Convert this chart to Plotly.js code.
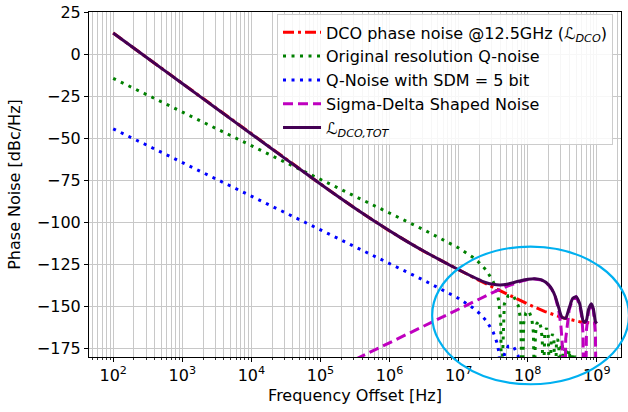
<!DOCTYPE html>
<html>
<head>
<meta charset="utf-8">
<script src="https://cdn.plot.ly/plotly-3.0.1.min.js"></script>
<style>html,body{margin:0;padding:0;background:#fff}</style>
</head>
<body>
<div id="chart" style="width:628px;height:412px"></div>
<script>
// Phase-noise budget of a 12.5 GHz DCO: offsets in Hz, levels in dBc/Hz.

// Free-running DCO phase noise (1/f^3 -> 1/f^2 -> floor)
const dcoFreq  = [1e2, 1e3, 1e4, 3.162e4, 1e5, 3.162e5, 1e6, 3.162e6, 1e7, 1.778e7, 3.162e7, 5.623e7, 1e8, 1.778e8, 3.162e8, 5.623e8, 1e9];
const dcoNoise = [12.5, -17.5, -47.5, -62.4, -77.2, -91.6, -105.1, -117.3, -128.3, -133.5, -138.6, -143.6, -148.5, -153.0, -156.6, -159.0, -160.1];

// Quantization noise at the original DCO resolution (sinc-shaped, nulls at multiples of the reference)
const qFreq = [1e2, 3.162e6, 1e7, 1.259e7, 1.585e7, 1.995e7, 2.512e7, 3.162e7, 3.548e7, 3.802e7, 3.981e7, 4.074e7, 4.167e7,
  4.583e7, 5.208e7, 6.25e7, 7.292e7, 7.917e7, 8.333e7,
  8.75e7, 9.375e7, 1.0417e8, 1.1458e8, 1.2083e8, 1.25e8,
  1.2917e8, 1.3542e8, 1.4583e8, 1.5625e8, 1.625e8, 1.6667e8,
  1.7708e8, 1.875e8, 1.9792e8, 2.0833e8,
  2.1875e8, 2.2917e8, 2.3958e8, 2.5e8,
  2.6042e8, 2.7083e8, 2.8125e8, 2.9167e8,
  3.0208e8, 3.125e8, 3.2292e8, 3.3333e8,
  3.4375e8, 3.5417e8, 3.6458e8, 3.75e8,
  3.8542e8, 3.9583e8, 4.0625e8, 4.1667e8,
  4.375e8, 4.5833e8, 4.7917e8, 5e8];
const qOrig = [-14.4, -104.5, -115.2, -117.75, -120.6, -124.0, -128.4, -135.2, -140.9, -146.5, -153.2, -159.6, -200,
  -148.6, -143.6, -143.8, -149.5, -158.1, -200,
  -159.8, -153.8, -152.7, -157.3, -165.4, -200,
  -166.6, -160.2, -158.5, -162.7, -170.6, -200,
  -164.9, -162.9, -166.8, -200,
  -168.6, -166.4, -170.1, -200,
  -171.6, -169.3, -172.9, -200,
  -174.2, -171.7, -175.3, -200,
  -176.4, -173.9, -177.4, -200,
  -178.4, -175.8, -179.3, -200,
  -177.6, -200, -179.2, -200];

// Quantization noise after 5 bits of sigma-delta dithering
const qSdmFreq = [1e2, 3.162e6, 1e7, 1.259e7, 1.585e7, 1.995e7, 2.512e7, 3.162e7, 3.548e7, 3.802e7, 3.981e7, 4.074e7, 4.167e7,
  4.583e7, 5.208e7, 6.25e7, 7.292e7, 7.917e7, 8.333e7];
const qSdm = [-44.4, -134.5, -145.2, -147.75, -150.6, -154.0, -158.4, -165.2, -170.9, -176.5, -183.2, -189.6, -230,
  -178.6, -173.6, -173.8, -179.5, -188.1, -230];

// Sigma-delta shaped noise (high-pass, nulls at multiples of the SDM clock)
const sdFreq = [1e2, 1e6, 3.162e6, 1e7, 1.778e7, 2.512e7, 3.162e7, 5.012e7, 6.31e7, 7.943e7, 1e8, 1.259e8, 1.585e8, 1.995e8,
  2.239e8, 2.512e8, 2.818e8, 3.02e8, 3.162e8, 3.333e8,
  3.548e8, 3.981e8, 4.467e8, 5.012e8, 5.623e8, 6.026e8, 6.31e8, 6.667e8,
  7.079e8, 7.586e8, 8.318e8, 8.913e8, 9.55e8, 1e9];
const sdNoise = [-251.3, -171.3, -161.3, -151.3, -146.4, -143.5, -141.6, -138.0, -136.3, -135.0, -134.0, -133.6, -134.3, -137.1,
  -139.9, -144.5, -152.5, -161.3, -172.1, -260,
  -169.1, -151.9, -145.5, -144.3, -148.5, -155.7, -165.6, -260,
  -163.9, -152.5, -148.7, -152.1, -165.6, -260];

// Total DCO phase noise
const totFreq = [1e2, 316.2, 1e3, 3162, 1e4, 31620, 1e5, 177800, 316200, 562300, 1e6, 1.778e6, 3.162e6, 5.623e6,
  1e7, 1.778e7, 2.512e7, 3.162e7, 3.981e7, 5.012e7, 6.31e7, 7.943e7, 1e8, 1.259e8, 1.585e8, 1.995e8,
  2.239e8, 2.512e8, 2.818e8, 3.02e8, 3.162e8, 3.333e8, 3.548e8, 3.981e8, 4.467e8, 5.012e8, 5.623e8,
  6.026e8, 6.31e8, 6.667e8, 7.079e8, 7.586e8, 8.318e8, 8.913e8, 9.55e8, 1e9];
const totNoise = [12.5, -2.5, -17.5, -32.5, -47.47, -62.4, -77.19, -84.45, -91.57, -98.46, -105.04, -111.28, -117.18, -122.77,
  -128.14, -133.21, -135.85, -136.82, -137.16, -136.72, -135.70, -134.71, -133.85, -133.51, -134.23, -137.01,
  -139.76, -144.15, -150.90, -155.17, -156.52, -156.91, -156.94, -150.89, -145.27, -144.14, -148.12,
  -154.09, -158.37, -159.40, -158.18, -151.74, -148.38, -151.43, -158.96, -160.07];

// Axis ticks
const xTickVals = [1e2, 1e3, 1e4, 1e5, 1e6, 1e7, 1e8, 1e9];
const xTickText = ['10<sup>2</sup>', '10<sup>3</sup>', '10<sup>4</sup>', '10<sup>5</sup>', '10<sup>6</sup>', '10<sup>7</sup>', '10<sup>8</sup>', '10<sup>9</sup>'];
const yTickVals = [-175, -150, -125, -100, -75, -50, -25, 0, 25];
const yTickText = ['\u2212175', '\u2212150', '\u2212125', '\u2212100', '\u221275', '\u221250', '\u221225', '0', '25'];

// Minor log grid: 2..9 within each decade
const xMinor = [];
for (let e = 1; e <= 9; e++) for (let m = 2; m <= 9; m++) xMinor.push(m * Math.pow(10, e));

const FONT = 'DejaVu Sans, sans-serif';
const FS = 16;
const GRID = '#c8c8c8';

const traces = [
  {x: dcoFreq, y: dcoNoise, mode: 'lines', name: 'DCO phase noise @12.5GHz (\u2112<sub><i>DCO</i></sub>)',
   line: {color: '#ff0000', width: 3, dash: '11px,4px,3px,4px'}},
  {x: qFreq, y: qOrig, mode: 'lines', name: 'Original resolution Q-noise',
   line: {color: '#008000', width: 3, dash: '3px,5.5px'}},
  {x: qSdmFreq, y: qSdm, mode: 'lines', name: 'Q-Noise with SDM = 5 bit',
   line: {color: '#0000ff', width: 3, dash: '3px,5.5px'}},
  {x: sdFreq, y: sdNoise, mode: 'lines', name: 'Sigma-Delta Shaped Noise',
   line: {color: '#bf00bf', width: 3, dash: '10px,5px'}},
  {x: totFreq, y: totNoise, mode: 'lines', name: '\u2112<sub><i>DCO,TOT</i></sub>',
   line: {color: '#440154', width: 3, shape: 'spline', smoothing: 0.6}}
];

const layout = {
  width: 628, height: 412,
  margin: {l: 89, r: 7, t: 12, b: 55},
  paper_bgcolor: '#ffffff', plot_bgcolor: '#ffffff',
  font: {family: FONT, size: FS, color: '#000'},
  showlegend: true,
  legend: {
    x: 0.985, xanchor: 'right', y: 0.993, yanchor: 'top',
    bgcolor: 'rgba(255,255,255,0.85)', bordercolor: '#cccccc', borderwidth: 1,
    font: {family: FONT, size: FS, color: '#000'}, itemwidth: 38
  },
  xaxis: {
    type: 'log', range: [1.65, 9.35],
    tickmode: 'array', tickvals: xTickVals, ticktext: xTickText,
    ticks: 'outside', ticklen: 4, tickwidth: 1, tickcolor: '#000',
    tickfont: {family: FONT, size: FS, color: '#000'},
    showline: true, linecolor: '#000', linewidth: 1, mirror: true,
    showgrid: true, gridcolor: GRID, gridwidth: 1, zeroline: false,
    minor: {tickmode: 'array', tickvals: xMinor, ticks: 'outside', ticklen: 2, tickwidth: 0.8, tickcolor: '#000',
            showgrid: true, gridcolor: GRID, gridwidth: 1},
    title: {text: 'Frequency Offset [Hz]', standoff: 5, font: {family: FONT, size: FS, color: '#000'}}
  },
  yaxis: {
    range: [-180, 25],
    tickmode: 'array', tickvals: yTickVals, ticktext: yTickText,
    ticks: 'outside', ticklen: 4, tickwidth: 1, tickcolor: '#000',
    tickfont: {family: FONT, size: FS, color: '#000'},
    showline: true, linecolor: '#000', linewidth: 1, mirror: true,
    showgrid: true, gridcolor: GRID, gridwidth: 1, zeroline: false,
    title: {text: 'Phase Noise [dBc/Hz]', standoff: 12, font: {family: FONT, size: FS, color: '#000'}}
  },
  shapes: [
    {type: 'circle', xref: 'paper', yref: 'paper', x0: 0.645, x1: 1.015, y0: -0.079, y1: 0.32,
     line: {color: '#00b0f0', width: 2.2}, layer: 'above'}
  ]
};

Plotly.newPlot('chart', traces, layout, {staticPlot: true, displayModeBar: false});
</script>
</body>
</html>
